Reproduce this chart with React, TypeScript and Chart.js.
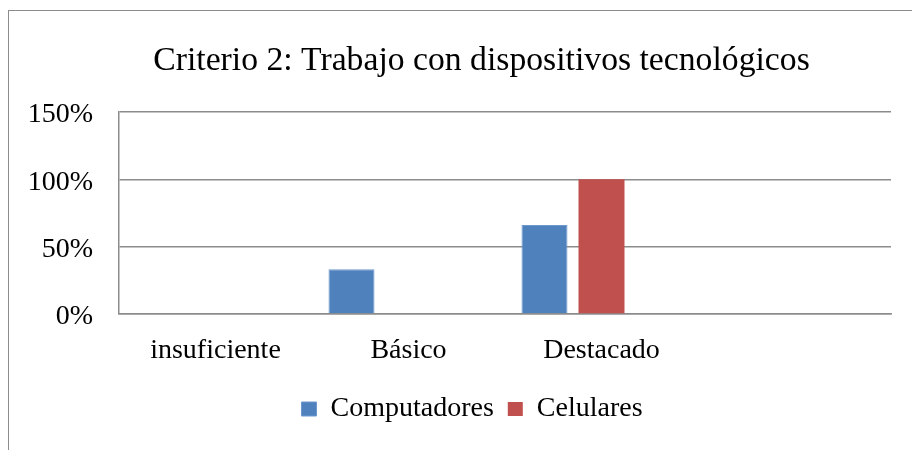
import React, { useEffect, useRef } from "react";
import { Chart, registerables } from "chart.js";

Chart.register(...registerables);

const TITLE = "Criterio 2: Trabajo con dispositivos tecnológicos";
const categories = ["insuficiente", "Básico", "Destacado", ""];
const computadores = [0, 33.3, 66, null];
const celulares = [0, 0, 100, null];
const yTicks = [0, 50, 100, 150];
const seriesNames = ["Computadores", "Celulares"];

const FONT = "'Liberation Serif', 'Times New Roman', serif";
const GRID = "#8c8c8c";

const framePlugin = {
  id: "frame",
  beforeDraw(chart: any) {
    const ctx = chart.ctx;
    ctx.save();
    ctx.fillStyle = "#ffffff";
    ctx.fillRect(0, 0, chart.width, chart.height);
    ctx.strokeStyle = GRID;
    ctx.lineWidth = 1;
    ctx.strokeRect(8.5, 10.5, 1200, 1200);
    ctx.restore();
  },
};

// Center title and legend like the reference (they are not centred on the canvas)
const centerPlugin = {
  id: "centerBlocks",
  afterLayout(chart: any) {
    if (chart.titleBlock) {
      chart.titleBlock.left = 72;
    }
    if (chart.legend) {
      chart.legend.left = 53;
    }
  },
};

export default function App() {
  const ref = useRef<HTMLCanvasElement | null>(null);
  useEffect(() => {
    if (!ref.current) return;
    const chart = new Chart(ref.current, {
      type: "bar",
      data: {
        labels: categories,
        datasets: [
          {
            label: seriesNames[0],
            data: computadores,
            backgroundColor: "#4F81BD",
            borderColor: "#6d98cc",
            borderWidth: 1,
          },
          {
            label: seriesNames[1],
            data: celulares,
            backgroundColor: "#C0504D",
            borderWidth: 0,
          },
          {
            label: "",
            data: [null, null, null, null],
            backgroundColor: "#9BBB59",
          },
        ],
      },
      options: {
        animation: false,
        responsive: false,
        maintainAspectRatio: false,
        datasets: {
          bar: {
            categoryPercentage: 0.886,
            barPercentage: 0.807,
          },
        },
        layout: { padding: { left: 0, right: 21, top: 0, bottom: 17 } },
        plugins: {
          title: {
            display: true,
            text: TITLE,
            color: "#000",
            font: { family: FONT, size: 33.7, weight: "normal", lineHeight: 1.2 },
            padding: { top: 41, bottom: 30.5 },
          },
          legend: {
            position: "bottom",
            labels: {
              color: "#000",
              font: { family: FONT, size: 28 },
              boxWidth: 15,
              boxHeight: 14,
              padding: 14,
              filter: (item: any) => item.text !== "",
            },
          },
          tooltip: { enabled: false },
        },
        scales: {
          x: {
            grid: { display: false, drawTicks: false },
            border: { display: true, color: GRID, width: 1.5 },
            ticks: {
              color: "#000",
              font: { family: FONT, size: 28 },
              padding: 20,
              maxRotation: 0,
              autoSkip: false,
            },
            afterFit: (s: any) => {
              s.height = 67;
            },
          },
          y: {
            min: 0,
            max: 150,
            afterBuildTicks: (s: any) => {
              s.ticks = yTicks.map((v) => ({ value: v }));
            },
            grid: { color: GRID, lineWidth: 1.5, drawTicks: false },
            border: { display: true, color: GRID, width: 1.5 },
            ticks: {
              color: "#000",
              font: { family: FONT, size: 28 },
              padding: 26,
              labelOffset: 3,
              callback: (v: any) => v + "%",
            },
            afterFit: (s: any) => {
              s.width = 119;
            },
          },
        },
      },
      plugins: [framePlugin, centerPlugin],
    });
    return () => chart.destroy();
  }, []);
  return (
    <div style={{ position: "fixed", left: 0, top: 0, width: 912, height: 450 }}>
      <canvas ref={ref} width={912} height={450} style={{ display: "block" }} />
    </div>
  );
}
